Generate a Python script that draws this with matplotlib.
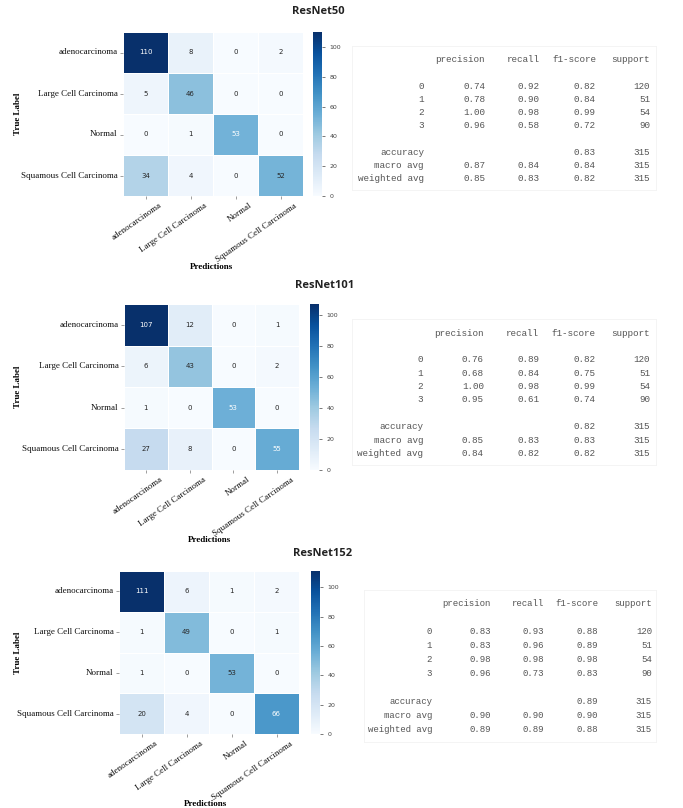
import numpy as np
import matplotlib
matplotlib.use('Agg')
import matplotlib.pyplot as plt
import matplotlib.transforms as mtransforms
import seaborn as sns

classes = ['adenocarcinoma', 'Large Cell Carcinoma', 'Normal', 'Squamous Cell Carcinoma']
models = ['ResNet50', 'ResNet101', 'ResNet152']

# matrices de confusion (filas = etiqueta real, columnas = prediccion)
cm_50 = [[110, 8, 0, 2], [5, 46, 0, 0], [0, 1, 53, 0], [34, 4, 0, 52]]
cm_101 = [[107, 12, 0, 1], [6, 43, 0, 2], [1, 0, 53, 0], [27, 8, 0, 55]]
cm_152 = [[111, 6, 1, 2], [1, 49, 0, 1], [1, 0, 53, 0], [20, 4, 0, 66]]

# classification_report de cada modelo
support = [120, 51, 54, 90]
prec_50 = [0.74, 0.78, 1.00, 0.96]
rec_50 = [0.92, 0.90, 0.98, 0.58]
f1_50 = [0.82, 0.84, 0.99, 0.72]
acc_50 = 0.83
macro_50 = [0.87, 0.84, 0.84]
weighted_50 = [0.85, 0.83, 0.82]

prec_101 = [0.76, 0.68, 1.00, 0.95]
rec_101 = [0.89, 0.84, 0.98, 0.61]
f1_101 = [0.82, 0.75, 0.99, 0.74]
acc_101 = 0.82
macro_101 = [0.85, 0.83, 0.83]
weighted_101 = [0.84, 0.82, 0.82]

prec_152 = [0.83, 0.83, 0.98, 0.96]
rec_152 = [0.93, 0.96, 0.98, 0.73]
f1_152 = [0.88, 0.89, 0.98, 0.83]
acc_152 = 0.89
macro_152 = [0.90, 0.90, 0.90]
weighted_152 = [0.89, 0.89, 0.88]

W, H = 683, 808
plt.rcParams['font.family'] = 'Liberation Serif'
fig = plt.figure(figsize=(W / 100, H / 100), dpi=100)
fig.patch.set_facecolor('white')


def box(x, y, w, h):
    # caja en pixeles (origen arriba a la izquierda) -> fraccion de la figura
    return [x / W, 1 - (y + h) / H, w / W, h / H]


def report_rows(prec, rec, f1, acc, macro, weighted):
    # filas del reporte como celdas: etiqueta, precision, recall, f1, support
    total = sum(support)
    rows = [['', 'precision', 'recall', 'f1-score', 'support'], None]
    for i in range(4):
        rows.append([str(i), f'{prec[i]:.2f}', f'{rec[i]:.2f}', f'{f1[i]:.2f}', str(support[i])])
    rows.append(None)
    rows.append(['accuracy', '', '', f'{acc:.2f}', str(total)])
    rows.append(['macro avg'] + [f'{v:.2f}' for v in macro] + [str(total)])
    rows.append(['weighted avg'] + [f'{v:.2f}' for v in weighted] + [str(total)])
    return rows


paneles = [
    dict(cm=cm_50, hm=(123, 32, 180, 164), cb=(313, 32, 9, 164), title=(318, 12),
         ylab=(18, 114), xlab=(211, 267),
         rep=report_rows(prec_50, rec_50, f1_50, acc_50, macro_50, weighted_50),
         cols=[424, 485, 540, 596, 650], y0=60, pitch=13.2, rep_fs=6.7, rep_box=(352, 46, 304, 144)),
    dict(cm=cm_101, hm=(124, 304, 175, 166), cb=(310, 304, 9, 166), title=(325, 286),
         ylab=(18, 387), xlab=(210, 540),
         rep=report_rows(prec_101, rec_101, f1_101, acc_101, macro_101, weighted_101),
         cols=[423, 484, 539, 595, 650], y0=333, pitch=13.4, rep_fs=6.7, rep_box=(352, 319, 304, 146)),
    dict(cm=cm_152, hm=(119, 571, 180, 163), cb=(311, 571, 9, 163), title=(323, 554),
         ylab=(18, 653), xlab=(205, 804),
         rep=report_rows(prec_152, rec_152, f1_152, acc_152, macro_152, weighted_152),
         cols=[432, 491, 544, 598, 652], y0=604, pitch=13.9, rep_fs=6.45, rep_box=(364, 590, 292, 152)),
]

# desplazamiento de las etiquetas rotadas del eje x
desplazar = mtransforms.ScaledTranslation(0.18, 0, fig.dpi_scale_trans)

for nombre, p in zip(models, paneles):
    ax = fig.add_axes(box(*p['hm']))
    cax = fig.add_axes(box(*p['cb']))
    sns.heatmap(np.array(p['cm']), annot=True, fmt='d', cmap='Blues', ax=ax, cbar_ax=cax,
                xticklabels=classes, yticklabels=classes, linewidths=0.4, linecolor='white',
                annot_kws={'size': 5, 'family': 'DejaVu Sans'})
    ax.tick_params(length=2, width=0.5, color='#777777', labelsize=6.5, labelcolor='#111111', pad=2)
    plt.setp(ax.get_xticklabels(), rotation=35, ha='right')
    for t in ax.get_xticklabels():
        t.set_transform(t.get_transform() + desplazar)
    plt.setp(ax.get_yticklabels(), rotation=0)
    cax.tick_params(labelsize=4.5, length=2, width=0.5, colors='#444444')
    for t in cax.get_yticklabels():
        t.set_fontfamily('DejaVu Sans')

    fig.text(p['title'][0] / W, 1 - p['title'][1] / H, nombre, ha='center', va='center',
             fontfamily='Open Sans', fontweight='bold', fontsize=8, color='#222222')
    fig.text(p['ylab'][0] / W, 1 - p['ylab'][1] / H, 'True Label', rotation=90, ha='center',
             va='center', fontweight='bold', fontsize=6.5)
    fig.text(p['xlab'][0] / W, 1 - p['xlab'][1] / H, 'Predictions', ha='center', va='center',
             fontweight='bold', fontsize=6.5)

    # recuadro del reporte
    bx = fig.add_axes(box(*p['rep_box']))
    bx.set_xticks([])
    bx.set_yticks([])
    bx.set_facecolor('white')
    for s in bx.spines.values():
        s.set_color('#f3f3f3')
        s.set_linewidth(0.6)

    for k, fila in enumerate(p['rep']):
        if fila is None:
            continue
        y = 1 - (p['y0'] + k * p['pitch']) / H
        for x, celda in zip(p['cols'], fila):
            if celda:
                fig.text(x / W, y, celda, ha='right', va='center', fontfamily='Liberation Mono',
                         fontsize=p['rep_fs'], color='#555555')

fig.savefig('out.png', dpi=100)
